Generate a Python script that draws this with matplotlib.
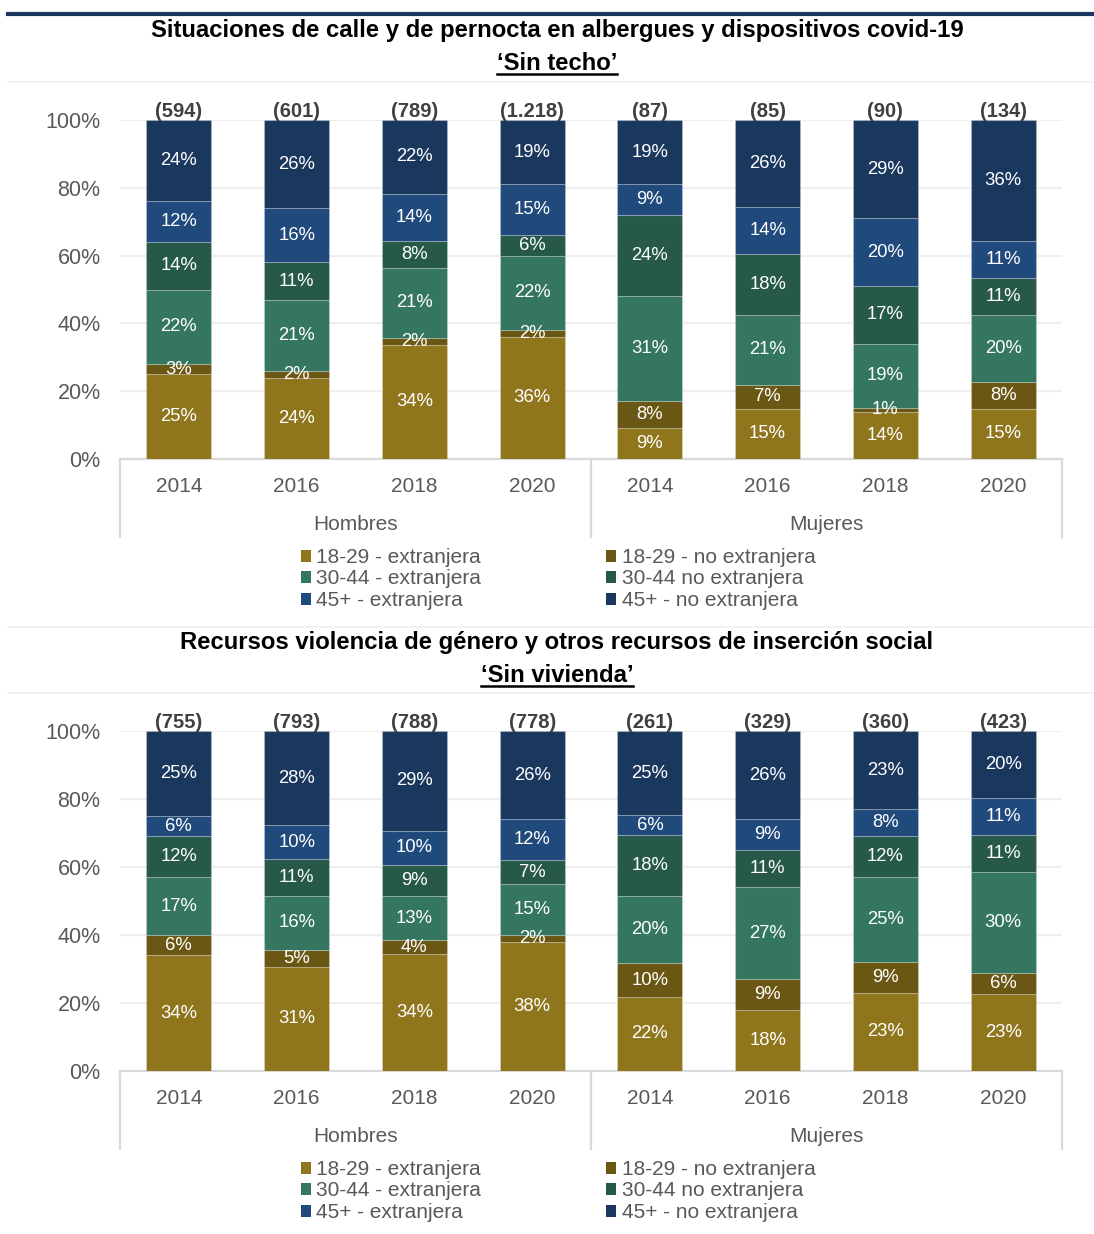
import matplotlib
matplotlib.use("Agg")
import matplotlib.pyplot as plt
from matplotlib.patches import Patch
from matplotlib.lines import Line2D
import numpy as np

plt.rcParams['font.family'] = ['Liberation Sans', 'DejaVu Sans']

# categories
years = ['2014', '2016', '2018', '2020', '2014', '2016', '2018', '2020']
groups = ['Hombres', 'Mujeres']
series = ['18-29 - extranjera', '18-29 - no extranjera',
          '30-44 - extranjera', '30-44 no extranjera',
          '45+ - extranjera', '45+ - no extranjera']
colors = ['#8F761C', '#6B5714', '#347660', '#265948', '#20497C', '#1A375E']

# 'Sin techo' (stack order: bottom to top, series order above)
techo_totals = ['(594)', '(601)', '(789)', '(1.218)', '(87)', '(85)', '(90)', '(134)']
techo_1829_ext = [25, 24, 34, 36, 9, 15, 14, 15]
techo_1829_no = [3, 2, 2, 2, 8, 7, 1, 8]
techo_3044_ext = [22, 21, 21, 22, 31, 21, 19, 20]
techo_3044_no = [14, 11, 8, 6, 24, 18, 17, 11]
techo_45_ext = [12, 16, 14, 15, 9, 14, 20, 11]
techo_45_no = [24, 26, 22, 19, 19, 26, 29, 36]

# 'Sin vivienda'
viv_totals = ['(755)', '(793)', '(788)', '(778)', '(261)', '(329)', '(360)', '(423)']
viv_1829_ext = [34, 31, 34, 38, 22, 18, 23, 23]
viv_1829_no = [6, 5, 4, 2, 10, 9, 9, 6]
viv_3044_ext = [17, 16, 13, 15, 20, 27, 25, 30]
viv_3044_no = [12, 11, 9, 7, 18, 11, 12, 11]
viv_45_ext = [6, 10, 10, 12, 6, 9, 8, 11]
viv_45_no = [25, 28, 29, 26, 25, 26, 23, 20]

W, H = 1094, 1234
fig = plt.figure(figsize=(W / 100, H / 100), dpi=100)
GRAY = '#595959'
LINE = '#D9D9D9'


def fy(py):
    return 1 - py / H


def fx(px):
    return px / W


def draw_chart(top_px, bot_px, data, totals, title, subtitle, title_y, sub_y, leg_y):
    ax = fig.add_axes([fx(120), fy(bot_px), fx(1062) - fx(120), fy(top_px) - fy(bot_px)])
    vals = np.array(data, dtype=float)
    norm = vals / vals.sum(axis=0) * 100
    x = np.arange(len(years))
    bottom = np.zeros(len(years))
    for i in range(len(series)):
        ax.bar(x, norm[i], 0.55, bottom=bottom, color=colors[i],
               edgecolor=(1, 1, 1, 0.22), linewidth=0.8, zorder=3)
        for j in range(len(years)):
            ax.text(x[j], bottom[j] + norm[i][j] / 2, f'{int(vals[i][j])}%',
                    ha='center', va='center', color='white', fontsize=13.3, zorder=4)
        bottom += norm[i]
    for j in range(len(years)):
        ax.text(x[j], 99.6, totals[j], ha='center', va='bottom', fontsize=14.5,
                fontweight='bold', color='#404040', clip_on=False)
    ax.set_xlim(-0.5, 7.5)
    ax.set_ylim(0, 100)
    ax.set_yticks(range(0, 101, 20))
    ax.set_yticklabels([f'{v}%' for v in range(0, 101, 20)], fontsize=15.5, color=GRAY)
    ax.tick_params(axis='y', length=0, pad=14)
    ax.set_xticks([])
    for s in ax.spines.values():
        s.set_visible(False)
    ax.yaxis.grid(True, color='#EFEFEF', linewidth=1.6, zorder=0)
    ax.set_axisbelow(True)
    # category axis with group separators
    ax.plot([-0.5, 7.5], [0, 0], color=LINE, linewidth=1.6, clip_on=False, zorder=2)
    for sx in [-0.5, 3.5, 7.5]:
        ax.plot([sx, sx], [0, -23], color=LINE, linewidth=1.6, clip_on=False)
    for j in range(len(years)):
        ax.text(x[j], -8.2, years[j], ha='center', va='center', fontsize=15, color=GRAY)
    for g, name in enumerate(groups):
        ax.text(1.5 + 4 * g, -19.4, name, ha='center', va='center', fontsize=15, color=GRAY)

    fig.text(fx(557), fy(title_y), title, ha='center', va='center',
             fontsize=17.2, fontweight='bold', color='black')
    st = fig.text(fx(557), fy(sub_y), subtitle, ha='center', va='center',
                  fontsize=17.2, fontweight='bold', color='black')
    fig.canvas.draw()
    bb = st.get_window_extent()
    fig.add_artist(Line2D([bb.x0 / W, bb.x1 / W], [fy(sub_y + 11)] * 2,
                          color='black', linewidth=1.8))

    handles = [Patch(facecolor=colors[k], edgecolor='none') for k in [0, 2, 4, 1, 3, 5]]
    labels = [series[k] for k in [0, 2, 4, 1, 3, 5]]
    fig.legend(handles, labels, loc='center', bbox_to_anchor=(fx(558), fy(leg_y)),
               ncol=2, frameon=False, fontsize=15, labelcolor=GRAY,
               handlelength=0.5, handleheight=0.5, handletextpad=0.25,
               labelspacing=0.12, columnspacing=6.0, borderpad=0)


draw_chart(120, 459,
           [techo_1829_ext, techo_1829_no, techo_3044_ext, techo_3044_no, techo_45_ext, techo_45_no],
           techo_totals,
           'Situaciones de calle y de pernocta en albergues y dispositivos covid-19',
           '\u2018Sin techo\u2019', 30, 63, 579)
draw_chart(731, 1071,
           [viv_1829_ext, viv_1829_no, viv_3044_ext, viv_3044_no, viv_45_ext, viv_45_no],
           viv_totals,
           'Recursos violencia de g\u00e9nero y otros recursos de inserci\u00f3n social',
           '\u2018Sin vivienda\u2019', 642, 675, 1191)

# decorative rules
fig.add_artist(Line2D([fx(8), 1], [fy(13.5)] * 2, color='#1A375E', linewidth=3))
for py in [82, 627, 693]:
    fig.add_artist(Line2D([fx(8), 1], [fy(py)] * 2, color='#F0F0F0', linewidth=1.2))

fig.savefig('out.png', dpi=100)
